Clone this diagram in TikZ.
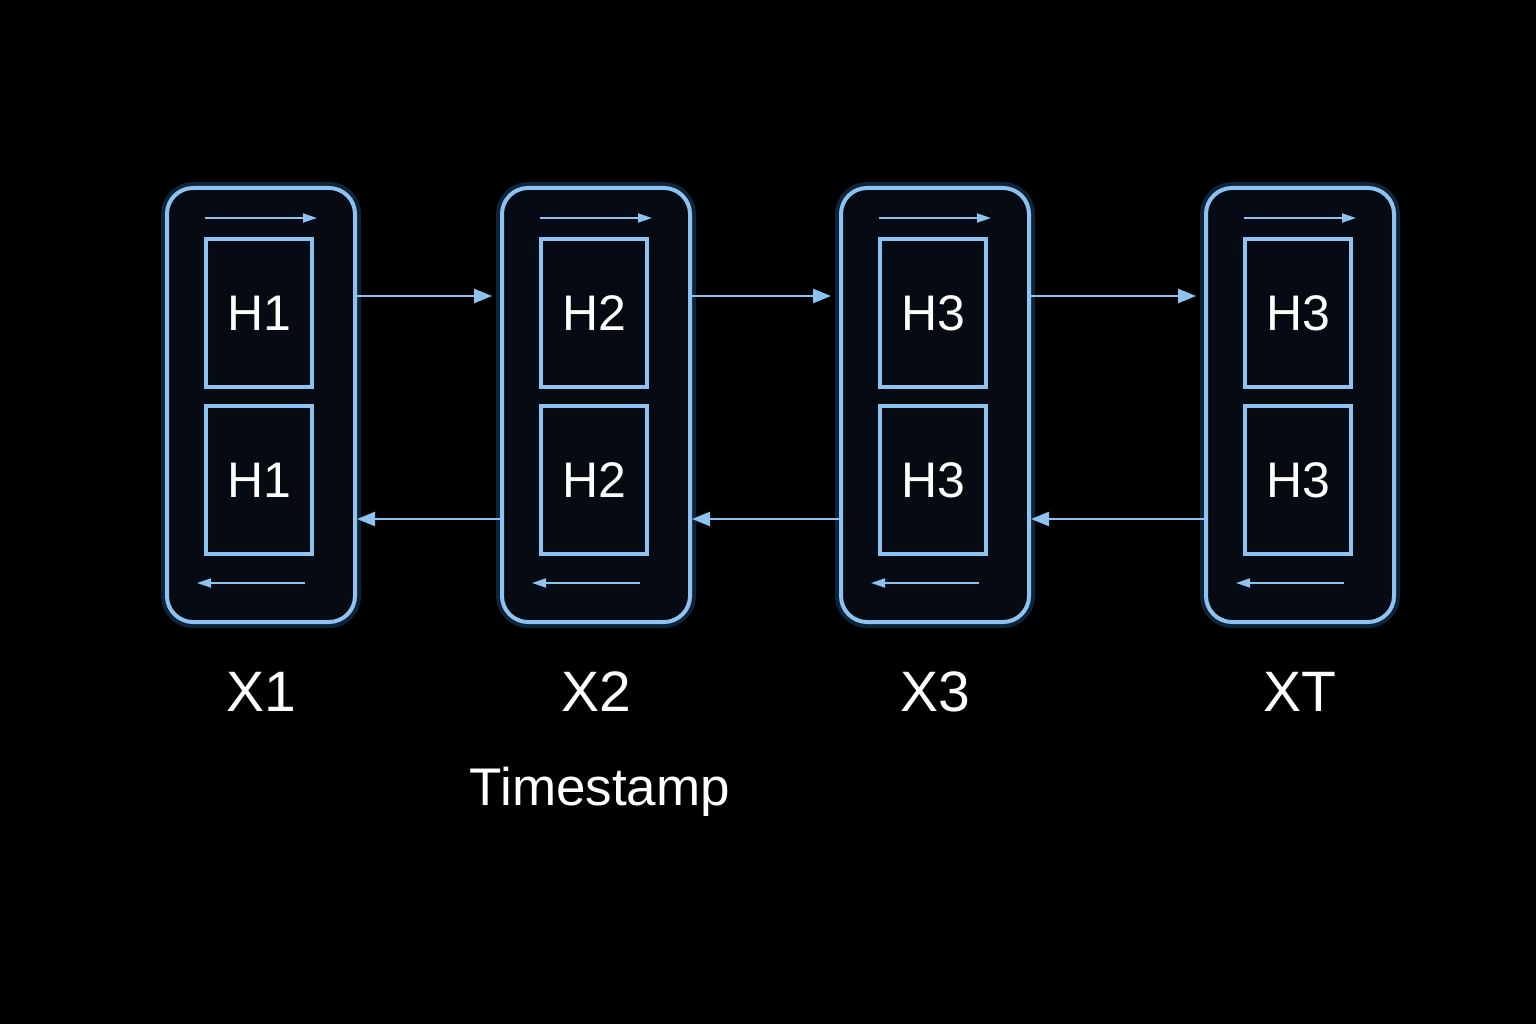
\documentclass[tikz,border=0pt]{standalone}
\usepackage{fontspec}
\setmainfont{Liberation Sans}
\usetikzlibrary{arrows.meta}
\definecolor{edge}{RGB}{140,195,240}
\definecolor{glow}{RGB}{60,140,230}
\definecolor{cellbg}{RGB}{6,10,18}
\begin{document}
\begin{tikzpicture}[x=1pt,y=-1pt,
  outer/.style={draw=edge,line width=4pt,fill=cellbg,rounded corners=26pt},
  glowb/.style={draw=glow,line width=12pt,opacity=0.25,rounded corners=26pt},
  inner/.style={draw=edge,line width=4pt,fill=cellbg,minimum width=106pt,minimum height=148pt,inner sep=0pt,font=\fontsize{50}{50}\selectfont,text=white},
  conn/.style={draw=edge,line width=2.5pt,-{Triangle[length=18pt,width=14pt]}},
  small/.style={draw=edge,line width=1.8pt,-{Triangle[length=14pt,width=9pt]}},
  lab/.style={text=white,font=\fontsize{57}{57}\selectfont}]
\fill[black] (0,0) rectangle (1536,1024);
\useasboundingbox (0,0) rectangle (1536,1024);
\foreach \n/\x/\a/\b/\l in {1/167/H1/H1/X1,2/502/H2/H2/X2,3/841/H3/H3/X3,4/1206/H3/H3/XT}{
  \draw[glowb] (\x,188) rectangle ++(188,434);
  \draw[outer] (\x,188) rectangle ++(188,434);
  \node[inner] (t\n) at (\x+92,313) {\a};
  \node[inner] (b\n) at (\x+92,480) {\b};
  \coordinate (ra\n) at (\x+38,218);
  \coordinate (rb\n) at (\x+150,218);
  \coordinate (la\n) at (\x+138,583);
  \coordinate (lb\n) at (\x+30,583);
  \draw[small] (ra\n) -- (rb\n);
  \draw[small] (la\n) -- (lb\n);
  \coordinate (L\n) at (\x,296);
  \coordinate (R\n) at (\x+188,296);
  \coordinate (Ll\n) at (\x,519);
  \coordinate (Rl\n) at (\x+188,519);
  \node[lab] (x\n) at (\x+94,692) {\l};
}
\draw[conn] (R1) -- ([xshift=-10pt]L2);
\draw[conn] (R2) -- ([xshift=-10pt]L3);
\draw[conn] (R3) -- ([xshift=-10pt]L4);
\draw[conn] (Ll2) -- ([xshift=2pt]Rl1);
\draw[conn] (Ll3) -- ([xshift=2pt]Rl2);
\draw[conn] (Ll4) -- ([xshift=2pt]Rl3);
\node[lab,font=\fontsize{53}{53}\selectfont] (ts) at (600,792) {Timestamp};
\end{tikzpicture}
\end{document}
